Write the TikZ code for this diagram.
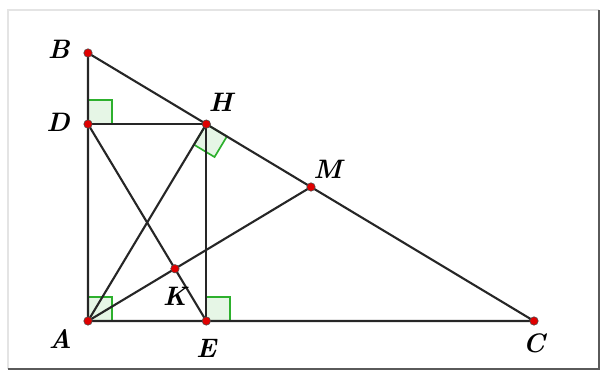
\documentclass[tikz,border=0pt]{standalone}
\usetikzlibrary{calc,positioning}
\definecolor{FrameGray}{HTML}{E4E4E4}
\definecolor{ShadowGray}{HTML}{5A5A5A}
\definecolor{MarkGreen}{HTML}{2DB02D}
\definecolor{DotRed}{HTML}{E00000}

\begin{document}
\begin{tikzpicture}[
    seg/.style={draw=black!85,line width=1.5pt},
    rmark/.style={draw=MarkGreen,line width=1.2pt,fill=MarkGreen!12},
    pt/.style={circle,fill=DotRed,draw=black!70,line width=0.4pt,inner sep=0pt,minimum size=6pt},
    lbl/.style={font=\fontsize{19}{19}\selectfont\bfseries\itshape,inner sep=0pt}
  ]
    \useasboundingbox (-2.2,-1.275) rectangle (12.825,8.025);
    % frame
    \draw[FrameGray,line width=1.5pt] (-2.0,-1.2) -- (-2.0,7.775) -- (12.775,7.775);
    \draw[ShadowGray,line width=1.8pt] (-2.0,-1.2) -- (12.775,-1.2) -- (12.775,7.775);

    \coordinate (A) at (0,0);
    \coordinate (B) at (0,6.7);
    \coordinate (C) at (11.15,0);
    \coordinate (H) at ($(B)!(A)!(C)$);
    \coordinate (D) at (A |- H);
    \coordinate (E) at (H |- A);
    \coordinate (M) at ($(B)!0.5!(C)$);
    \coordinate (K) at (intersection of A--M and D--E);
    \coordinate (Ha) at ($(H)!0.6cm!(A)$);
    \coordinate (Hc) at ($(H)!0.6cm!(C)$);

    % right angles
    \draw[rmark] (D) rectangle ++(0.6,0.6);
    \draw[rmark] (A) rectangle ++(0.6,0.6);
    \draw[rmark] (E) rectangle ++(0.6,0.6);
    \draw[rmark] (H) -- (Ha) -- ($(Ha)+(Hc)-(H)$) -- (Hc) -- cycle;

    % segments
    \draw[seg] (A) -- (B) -- (C) -- cycle;
    \draw[seg] (D) -- (H);
    \draw[seg] (H) -- (E);
    \draw[seg] (A) -- (H);
    \draw[seg] (D) -- (E);
    \draw[seg] (A) -- (M);

    \foreach \p in {A,B,C,D,E,H,M,K}
      \node[pt] at (\p) {};

    \node[lbl,left=0.45cm of B,yshift=0.1cm] (lB) {B};
    \node[lbl,left=0.45cm of D,yshift=0.05cm] (lD) {D};
    \node[lbl,above right=0.3cm and 0.05cm of H] (lH) {H};
    \node[lbl,above right=0.2cm and 0.05cm of M] (lM) {M};
    \node[lbl,below=0.45cm of K] (lK) {K};
    \node[lbl,below left=0.2cm and 0.4cm of A] (lA) {A};
    \node[lbl,below=0.45cm of E] (lE) {E};
    \node[lbl,below=0.3cm of C] (lC) {C};
  \end{tikzpicture}
\end{document}
